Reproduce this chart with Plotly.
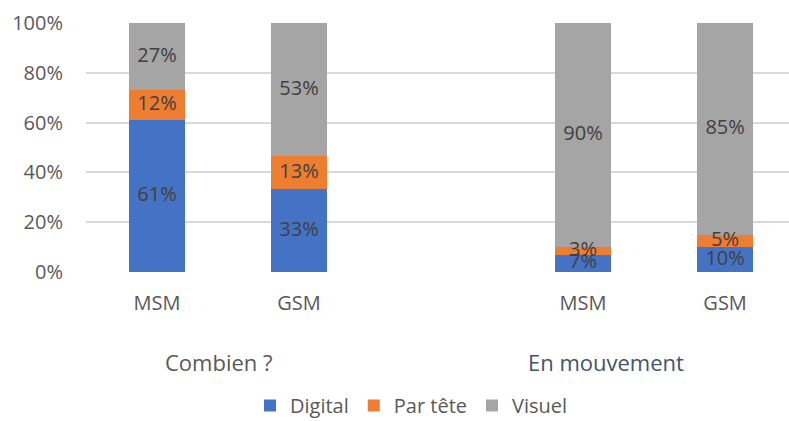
import plotly.graph_objects as go

categories = ["MSM", "GSM", "MSM", "GSM"]
positions = [0, 1, 3, 4]
groups = ["Combien ?", "En mouvement"]
digital = [0.61, 0.33, 0.07, 0.10]
par_tete = [0.12, 0.13, 0.03, 0.05]
visuel = [0.27, 0.53, 0.90, 0.85]
series_names = ["Digital", "Par tête", "Visuel"]
colors = ["#4472C4", "#ED7D31", "#A5A5A5"]

FONT = "Open Sans, Noto Sans, sans-serif"

fig = go.Figure()
series = [digital, par_tete, visuel]
for name, vals, col in zip(series_names, series, colors):
    fig.add_trace(go.Bar(
        x=positions, y=vals, name=name,
        marker=dict(color=col, line=dict(width=0)),
        width=0.4, hoverinfo="skip",
    ))

# data labels drawn on top of all bars, centred in each (100%-normalised) segment
totals = [sum(t) for t in zip(*series)]
base = [0.0] * len(positions)
for vals in series:
    mids = [(b + v / 2) / t for b, v, t in zip(base, vals, totals)]
    fig.add_trace(go.Scatter(
        x=positions, y=mids, mode="text",
        text=[f"{round(v*100)}%" for v in vals],
        textposition="middle center",
        textfont=dict(color="#404040", size=20, family=FONT),
        showlegend=False, hoverinfo="skip", cliponaxis=False,
    ))
    base = [b + v for b, v in zip(base, vals)]

fig.update_layout(
    barmode="stack", barnorm="fraction",
    width=789, height=425,
    margin=dict(l=86, r=0, t=23, b=153),
    plot_bgcolor="white", paper_bgcolor="white",
    font=dict(family=FONT, size=20, color="#595959"),
    showlegend=True,
    legend=dict(orientation="h", x=0.463, xanchor="center", y=-0.6145, yanchor="bottom",
                font=dict(size=20, color="#595959"), traceorder="normal",
                itemwidth=30),
    xaxis=dict(
        range=[-0.5, 4.45], tickvals=positions, ticktext=categories,
        showgrid=False, zeroline=False, showline=False,
        ticks="outside", ticklen=13, tickcolor="rgba(0,0,0,0)",
        tickfont=dict(size=20, color="#595959"),
    ),
    yaxis=dict(
        range=[0, 1], tickformat=".0%", dtick=0.2,
        showgrid=True, gridcolor="#D9D9D9", gridwidth=1.5,
        zeroline=False, showline=False,
        ticks="outside", ticklen=18, tickcolor="rgba(0,0,0,0)",
        tickfont=dict(size=20, color="#595959"),
    ),
    annotations=[
        dict(x=0.437, y=-0.361, xref="x", yref="paper", text=groups[0], showarrow=False,
             font=dict(size=22, color="#595959"), xanchor="center", yanchor="middle"),
        dict(x=3.16, y=-0.361, xref="x", yref="paper", text=groups[1], showarrow=False,
             font=dict(size=22, color="#44546A"), xanchor="center", yanchor="middle"),
    ],
)

fig.write_html("out.html", config={"displayModeBar": False},
               post_script="document.body.style.margin='0';document.body.style.overflow='hidden';")
